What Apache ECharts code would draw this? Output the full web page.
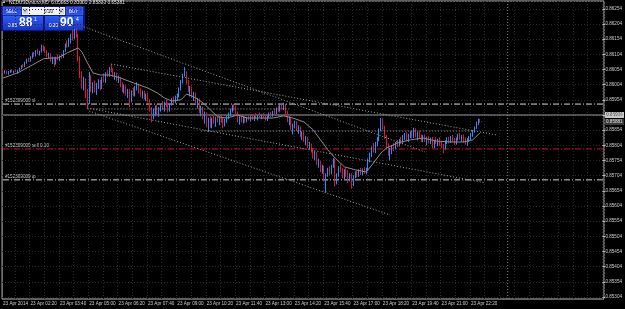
<!DOCTYPE html>
<html>
<head>
<meta charset="utf-8">
<script src="https://cdn.jsdelivr.net/npm/echarts@6/dist/echarts.min.js"></script>
<style>
  html, body { margin: 0; padding: 0; background: #000; }
  #chart { width: 625px; height: 309px; }
</style>
</head>
<body>
<div id="chart"></div>
<script>
// NZDUSDmicro M5 candles, 23 Apr 2014
var symbolTitle = 'NZDUSDmicro,M5  0.85883 0.85883 0.85880 0.85881';
var orderTicket = '#152309009';

var tickLabels = ['23 Apr 2014', '23 Apr 02:20', '23 Apr 03:40', '23 Apr 05:00', '23 Apr 06:20',
  '23 Apr 07:40', '23 Apr 09:00', '23 Apr 10:20', '23 Apr 11:40', '23 Apr 13:00', '23 Apr 14:20',
  '23 Apr 15:40', '23 Apr 17:00', '23 Apr 18:20', '23 Apr 19:40', '23 Apr 21:00', '23 Apr 22:20'];

var barOpen = [
  0.86050,0.86045,0.86048,0.86041,0.86046,0.86050,0.86046,0.86049,0.86047,0.86050,
  0.86058,0.86066,0.86063,0.86078,0.86086,0.86082,0.86095,0.86106,0.86099,0.86115,
  0.86108,0.86113,0.86130,0.86118,0.86112,0.86098,0.86105,0.86084,0.86090,0.86074,
  0.86092,0.86088,0.86097,0.86094,0.86115,0.86136,0.86130,0.86152,0.86166,0.86160,
  0.86178,0.86168,0.86090,0.86035,0.86000,0.86020,0.85968,0.85945,0.86030,0.85990,
  0.86005,0.85985,0.86002,0.86015,0.85995,0.86025,0.86018,0.86040,0.86036,0.86058,
  0.86050,0.86035,0.86040,0.86020,0.86028,0.86000,0.85985,0.85998,0.85975,0.85985,
  0.85950,0.85980,0.85970,0.85995,0.86005,0.85980,0.85966,0.85978,0.85960,0.85970,
  0.85950,0.85920,0.85895,0.85918,0.85930,0.85910,0.85925,0.85935,0.85928,0.85945,
  0.85938,0.85920,0.85940,0.85955,0.85946,0.85962,0.85968,0.85990,0.86015,0.86035,
  0.86040,0.86012,0.85985,0.85995,0.85965,0.85972,0.85945,0.85955,0.85915,0.85928,
  0.85895,0.85910,0.85870,0.85888,0.85870,0.85890,0.85880,0.85895,0.85885,0.85897,
  0.85882,0.85870,0.85888,0.85900,0.85906,0.85920,0.85932,0.85924,0.85910,0.85885,
  0.85895,0.85884,0.85893,0.85886,0.85895,0.85890,0.85898,0.85892,0.85900,0.85896,
  0.85902,0.85898,0.85904,0.85897,0.85890,0.85900,0.85908,0.85902,0.85915,0.85910,
  0.85925,0.85920,0.85932,0.85928,0.85935,0.85910,0.85885,0.85895,0.85860,0.85868,
  0.85880,0.85855,0.85862,0.85835,0.85845,0.85820,0.85830,0.85800,0.85808,0.85785,
  0.85765,0.85778,0.85745,0.85750,0.85720,0.85732,0.85695,0.85705,0.85725,0.85712,
  0.85735,0.85755,0.85680,0.85708,0.85730,0.85720,0.85700,0.85718,0.85705,0.85690,
  0.85708,0.85675,0.85700,0.85712,0.85705,0.85720,0.85712,0.85722,0.85716,0.85726,
  0.85755,0.85775,0.85792,0.85785,0.85810,0.85825,0.85855,0.85885,0.85860,0.85830,
  0.85795,0.85780,0.85790,0.85800,0.85795,0.85810,0.85805,0.85820,0.85815,0.85830,
  0.85840,0.85825,0.85838,0.85845,0.85832,0.85855,0.85835,0.85845,0.85832,0.85820,
  0.85835,0.85818,0.85828,0.85815,0.85825,0.85800,0.85818,0.85812,0.85822,0.85806,
  0.85800,0.85795,0.85815,0.85825,0.85818,0.85830,0.85820,0.85812,0.85826,0.85836,
  0.85828,0.85834,0.85816,0.85810,0.85824,0.85830,0.85840,0.85850,0.85862,0.85878,
  0.85887,0.85883
];
var barHigh = [
  0.86056,0.86052,0.86050,0.86049,0.86053,0.86055,0.86051,0.86054,0.86052,0.86060,
  0.86068,0.86072,0.86080,0.86090,0.86092,0.86098,0.86110,0.86112,0.86118,0.86122,
  0.86116,0.86136,0.86134,0.86128,0.86116,0.86110,0.86108,0.86096,0.86093,0.86096,
  0.86104,0.86100,0.86106,0.86118,0.86140,0.86150,0.86158,0.86172,0.86186,0.86188,
  0.86190,0.86172,0.86098,0.86048,0.86030,0.86025,0.85990,0.86046,0.86036,0.86012,
  0.86018,0.86010,0.86022,0.86020,0.86030,0.86040,0.86045,0.86052,0.86062,0.86072,
  0.86058,0.86045,0.86044,0.86034,0.86030,0.86012,0.86005,0.86002,0.85990,0.85990,
  0.85985,0.85995,0.86000,0.86012,0.86008,0.85992,0.85985,0.85984,0.85975,0.85978,
  0.85955,0.85930,0.85925,0.85935,0.85938,0.85930,0.85940,0.85950,0.85948,0.85955,
  0.85945,0.85942,0.85960,0.85965,0.85968,0.85975,0.85995,0.86020,0.86040,0.86062,
  0.86048,0.86020,0.86000,0.85998,0.85980,0.85978,0.85960,0.85958,0.85935,0.85932,
  0.85915,0.85912,0.85895,0.85900,0.85895,0.85902,0.85898,0.85905,0.85900,0.85902,
  0.85896,0.85892,0.85903,0.85912,0.85925,0.85938,0.85940,0.85935,0.85915,0.85900,
  0.85905,0.85898,0.85900,0.85898,0.85905,0.85900,0.85906,0.85902,0.85910,0.85904,
  0.85912,0.85906,0.85910,0.85905,0.85902,0.85912,0.85915,0.85918,0.85925,0.85928,
  0.85935,0.85938,0.85940,0.85945,0.85940,0.85918,0.85900,0.85898,0.85875,0.85885,
  0.85884,0.85870,0.85866,0.85850,0.85848,0.85835,0.85832,0.85815,0.85810,0.85795,
  0.85785,0.85782,0.85760,0.85752,0.85740,0.85738,0.85712,0.85730,0.85735,0.85740,
  0.85762,0.85760,0.85712,0.85735,0.85742,0.85728,0.85725,0.85730,0.85722,0.85712,
  0.85712,0.85705,0.85718,0.85720,0.85725,0.85730,0.85728,0.85732,0.85730,0.85760,
  0.85780,0.85800,0.85812,0.85815,0.85832,0.85860,0.85894,0.85892,0.85868,0.85838,
  0.85810,0.85795,0.85805,0.85812,0.85815,0.85822,0.85825,0.85832,0.85838,0.85845,
  0.85848,0.85842,0.85850,0.85852,0.85862,0.85860,0.85848,0.85852,0.85840,0.85838,
  0.85840,0.85832,0.85835,0.85830,0.85832,0.85822,0.85830,0.85825,0.85830,0.85815,
  0.85808,0.85820,0.85830,0.85832,0.85835,0.85838,0.85828,0.85830,0.85842,0.85845,
  0.85838,0.85840,0.85830,0.85828,0.85835,0.85845,0.85855,0.85866,0.85882,0.85892,
  0.85891,0.85883
];
var barLow = [
  0.86042,0.86040,0.86038,0.86037,0.86043,0.86044,0.86041,0.86045,0.86040,0.86048,
  0.86055,0.86060,0.86062,0.86074,0.86079,0.86080,0.86090,0.86096,0.86097,0.86104,
  0.86100,0.86110,0.86114,0.86108,0.86094,0.86090,0.86080,0.86072,0.86062,0.86070,
  0.86085,0.86082,0.86090,0.86092,0.86112,0.86126,0.86128,0.86140,0.86150,0.86155,
  0.86160,0.86080,0.86026,0.85990,0.85985,0.85960,0.85925,0.85940,0.85980,0.85975,
  0.85978,0.85970,0.85990,0.85985,0.85990,0.86012,0.86010,0.86030,0.86030,0.86045,
  0.86030,0.86020,0.86015,0.86010,0.85995,0.85980,0.85975,0.85968,0.85960,0.85930,
  0.85945,0.85965,0.85965,0.85985,0.85975,0.85962,0.85958,0.85955,0.85950,0.85945,
  0.85915,0.85880,0.85890,0.85900,0.85905,0.85898,0.85915,0.85920,0.85915,0.85930,
  0.85912,0.85915,0.85935,0.85940,0.85942,0.85950,0.85962,0.85985,0.86008,0.86030,
  0.86005,0.85980,0.85965,0.85960,0.85950,0.85940,0.85925,0.85910,0.85900,0.85890,
  0.85875,0.85865,0.85848,0.85862,0.85860,0.85875,0.85865,0.85880,0.85870,0.85878,
  0.85860,0.85866,0.85878,0.85890,0.85900,0.85912,0.85918,0.85905,0.85880,0.85872,
  0.85880,0.85876,0.85878,0.85880,0.85886,0.85882,0.85888,0.85884,0.85892,0.85886,
  0.85895,0.85890,0.85893,0.85885,0.85884,0.85895,0.85896,0.85898,0.85905,0.85906,
  0.85914,0.85915,0.85922,0.85920,0.85905,0.85880,0.85870,0.85855,0.85840,0.85860,
  0.85850,0.85842,0.85830,0.85822,0.85815,0.85805,0.85795,0.85790,0.85780,0.85760,
  0.85755,0.85740,0.85730,0.85715,0.85710,0.85690,0.85648,0.85700,0.85705,0.85708,
  0.85730,0.85668,0.85675,0.85700,0.85715,0.85695,0.85690,0.85700,0.85680,0.85685,
  0.85660,0.85670,0.85695,0.85698,0.85700,0.85706,0.85705,0.85710,0.85708,0.85720,
  0.85748,0.85765,0.85780,0.85778,0.85800,0.85818,0.85850,0.85855,0.85825,0.85790,
  0.85770,0.85755,0.85775,0.85785,0.85790,0.85798,0.85800,0.85808,0.85810,0.85822,
  0.85818,0.85815,0.85828,0.85826,0.85828,0.85830,0.85820,0.85828,0.85815,0.85814,
  0.85815,0.85805,0.85810,0.85808,0.85795,0.85795,0.85808,0.85800,0.85802,0.85795,
  0.85778,0.85790,0.85808,0.85810,0.85812,0.85815,0.85805,0.85806,0.85820,0.85822,
  0.85815,0.85812,0.85806,0.85802,0.85815,0.85822,0.85832,0.85845,0.85858,0.85870,
  0.85878,0.85880
];
var barClose = [
  0.86045,0.86048,0.86041,0.86046,0.86050,0.86046,0.86049,0.86047,0.86050,0.86058,
  0.86066,0.86063,0.86078,0.86086,0.86082,0.86095,0.86106,0.86099,0.86115,0.86108,
  0.86113,0.86130,0.86118,0.86112,0.86098,0.86105,0.86084,0.86090,0.86074,0.86092,
  0.86088,0.86097,0.86094,0.86115,0.86136,0.86130,0.86152,0.86166,0.86160,0.86178,
  0.86168,0.86090,0.86035,0.86000,0.86020,0.85968,0.85945,0.86030,0.85990,0.86005,
  0.85985,0.86002,0.86015,0.85995,0.86025,0.86018,0.86040,0.86036,0.86058,0.86050,
  0.86035,0.86040,0.86020,0.86028,0.86000,0.85985,0.85998,0.85975,0.85985,0.85950,
  0.85980,0.85970,0.85995,0.86005,0.85980,0.85966,0.85978,0.85960,0.85970,0.85950,
  0.85920,0.85895,0.85918,0.85930,0.85910,0.85925,0.85935,0.85928,0.85945,0.85938,
  0.85920,0.85940,0.85955,0.85946,0.85962,0.85968,0.85990,0.86015,0.86035,0.86040,
  0.86012,0.85985,0.85995,0.85965,0.85972,0.85945,0.85955,0.85915,0.85928,0.85895,
  0.85910,0.85870,0.85888,0.85870,0.85890,0.85880,0.85895,0.85885,0.85897,0.85882,
  0.85870,0.85888,0.85900,0.85906,0.85920,0.85932,0.85924,0.85910,0.85885,0.85895,
  0.85884,0.85893,0.85886,0.85895,0.85890,0.85898,0.85892,0.85900,0.85896,0.85902,
  0.85898,0.85904,0.85897,0.85890,0.85900,0.85908,0.85902,0.85915,0.85910,0.85925,
  0.85920,0.85932,0.85928,0.85935,0.85910,0.85885,0.85895,0.85860,0.85868,0.85880,
  0.85855,0.85862,0.85835,0.85845,0.85820,0.85830,0.85800,0.85808,0.85785,0.85765,
  0.85778,0.85745,0.85750,0.85720,0.85732,0.85695,0.85705,0.85725,0.85712,0.85735,
  0.85755,0.85680,0.85708,0.85730,0.85720,0.85700,0.85718,0.85705,0.85690,0.85708,
  0.85675,0.85700,0.85712,0.85705,0.85720,0.85712,0.85722,0.85716,0.85726,0.85755,
  0.85775,0.85792,0.85785,0.85810,0.85825,0.85855,0.85885,0.85860,0.85830,0.85795,
  0.85780,0.85790,0.85800,0.85795,0.85810,0.85805,0.85820,0.85815,0.85830,0.85840,
  0.85825,0.85838,0.85845,0.85832,0.85855,0.85835,0.85845,0.85832,0.85820,0.85835,
  0.85818,0.85828,0.85815,0.85825,0.85800,0.85818,0.85812,0.85822,0.85806,0.85800,
  0.85795,0.85815,0.85825,0.85818,0.85830,0.85820,0.85812,0.85826,0.85836,0.85828,
  0.85834,0.85816,0.85810,0.85824,0.85830,0.85840,0.85850,0.85862,0.85878,0.85887,
  0.85883,0.85881
];

// moving average, read at sample bars
var maIndex = [0, 8, 16, 22, 26, 30, 35, 41, 43, 46, 49, 53, 58, 64, 71, 79, 84, 88, 92, 97,
  100, 104, 109, 113, 117, 122, 128, 133, 140, 147, 153, 158, 164, 169, 173, 177, 181, 186, 192, 198,
  201, 206, 209, 215, 222, 229, 236, 244, 251, 256, 260];
var maValue = [0.86026, 0.86043, 0.86069, 0.86089, 0.86092, 0.86092, 0.86109, 0.86125, 0.86112, 0.86076,
  0.86043, 0.86036, 0.86036, 0.86026, 0.86010, 0.85993, 0.85977, 0.85960, 0.85950, 0.85954,
  0.85973, 0.85964, 0.85944, 0.85921, 0.85898, 0.85894, 0.85904, 0.85894, 0.85894, 0.85894,
  0.85901, 0.85894, 0.85881, 0.85855, 0.85822, 0.85789, 0.85762, 0.85733, 0.85723, 0.85716,
  0.85739, 0.85779, 0.85795, 0.85812, 0.85822, 0.85828, 0.85818, 0.85815, 0.85815, 0.85822, 0.85845];

// dotted trend lines: [bar1, price1, bar2, price2]
var trendLines = [
  [44, 0.86195, 230, 0.85782],
  [59, 0.86072, 269, 0.85838],
  [46, 0.85927, 263, 0.85680],
  [47, 0.85917, 211, 0.85574],
  [46, 0.85924, 156, 0.85924],
  [108, 0.85851, 256, 0.85851]
];

var slLevel = 0.85940;
var sellLevel = 0.85792;
var tpLevel = 0.85690;
var askPrice = 0.85904;
var bidPrice = 0.85881;
var separatorBar = 275; // 24 Apr 00:00

var barCount = 328;
var priceMin = 0.85297, priceMax = 0.86280;
var labelShift = 0.00004; // right scale ticks sit at ...04

function pad(n) { return (n < 10 ? '0' : '') + n; }

// bar times, 5 minute steps from 23 Apr 01:05
var categories = [];
for (var i = 0; i < barCount; i++) {
  var t = 65 + i * 5;
  var day = t >= 1440 ? '24' : '23';
  t = t % 1440;
  categories.push(day + ' Apr ' + pad(Math.floor(t / 60)) + ':' + pad(t % 60));
}

var candles = barOpen.map(function(o, k) {
  return [o, barClose[k], barLow[k], barHigh[k]];
});

function isLabelBar(idx) {
  return idx === 0 || (idx >= 15 && (idx - 15) % 16 === 0 && idx <= 255);
}

var FONT = '"Liberation Sans", Arial, sans-serif';
var textCol = '#cfcfcf';
var gridCol = '#2a2a2a';
var dotCol = '#a8a8a8';
var dashDot = [6, 2, 1, 2];

var series = [];

function segment(points, color, type, z) {
  series.push({
    type: 'line',
    xAxisIndex: 0, yAxisIndex: 0,
    data: points,
    symbol: 'none',
    silent: true,
    lineStyle: { color: color, width: 1, type: type },
    z: z
  });
}

// order / price levels and day separator
segment([[0, slLevel], [barCount - 1, slLevel]], '#d8d8d8', dashDot, 1);
segment([[0, sellLevel], [barCount - 1, sellLevel]], '#c8143c', dashDot, 1);
segment([[0, tpLevel], [barCount - 1, tpLevel]], '#d8d8d8', dashDot, 1);
segment([[0, askPrice], [barCount - 1, askPrice]], '#9a9a9a', 'solid', 1);
segment([[separatorBar, priceMin], [separatorBar, priceMax]], '#8a8a8a', [1, 2], 1);

series.push({
  type: 'candlestick',
  xAxisIndex: 0, yAxisIndex: 0,
  data: candles,
  barWidth: 1,
  itemStyle: {
    color: '#1e90ff', color0: '#dc143c',
    borderColor: '#1e90ff', borderColor0: '#dc143c',
    borderWidth: 1
  },
  z: 2
});

series.push({
  type: 'line',
  xAxisIndex: 0, yAxisIndex: 0,
  data: maIndex.map(function(b, k) { return [b, maValue[k]]; }),
  symbol: 'none',
  lineStyle: { color: '#8e8e8e', width: 1 },
  z: 3
});

trendLines.forEach(function(tl) {
  segment([[tl[0], tl[1]], [tl[2], tl[3]]], dotCol, [1, 2], 4);
});

var option = {
  backgroundColor: '#000',
  animation: false,
  grid: [
    { left: 2, top: 1, width: 602, height: 298, show: true, borderColor: '#bdbdbd', borderWidth: 1, backgroundColor: 'transparent' },
    { left: 2, top: 1, width: 602, height: 296, show: false }
  ],
  xAxis: [
    {
      gridIndex: 0, type: 'category', data: categories, boundaryGap: true,
      axisLine: { show: false }, axisTick: { show: false },
      axisLabel: {
        interval: function(idx) { return isLabelBar(idx); },
        formatter: function(v, idx) {
          return idx === 0 ? tickLabels[0] : tickLabels[(idx - 15) / 16 + 1];
        },
        align: 'left', margin: 2, color: textCol, fontSize: 4.6, fontFamily: FONT
      },
      splitLine: {
        show: true,
        interval: function(idx) { return idx >= 7 && (idx - 7) % 8 === 0; },
        lineStyle: { color: gridCol, type: [1, 2], width: 1 }
      }
    },
    { gridIndex: 1, type: 'category', data: categories, show: false }
  ],
  yAxis: [
    { gridIndex: 0, type: 'value', min: priceMin, max: priceMax, show: false, splitLine: { show: false } },
    {
      gridIndex: 1, type: 'value', position: 'right',
      min: 0.85300, max: 0.86276, interval: 0.0005,
      axisLine: { show: false },
      axisTick: { show: true, length: 3, lineStyle: { color: '#bdbdbd' } },
      axisLabel: {
        showMaxLabel: false, margin: 3, color: textCol, fontSize: 4.6, fontFamily: FONT,
        formatter: function(v) { return (v + labelShift).toFixed(5); }
      },
      splitLine: { show: true, lineStyle: { color: gridCol, type: [1, 2], width: 1 } }
    }
  ],
  series: series,
  graphic: [
    { type: 'text', left: 2, top: 0, style: { text: '\u25B2', fill: '#d0d0d0', fontSize: 4 } },
    { type: 'text', left: 9, top: 0, style: { text: symbolTitle, fill: '#e4e4e4', font: '4.8px ' + FONT } },
    // one-click trading panel
    { type: 'rect', shape: { x: 1, y: 6, width: 84, height: 25 }, style: { fill: '#0b138a' } },
    { type: 'rect', shape: { x: 3, y: 7, width: 18, height: 8 }, style: { fill: '#2a4de4', stroke: '#5a78f0', lineWidth: 0.5 } },
    { type: 'text', left: 6, top: 9, style: { text: 'SELL', fill: '#fff', font: '4.5px ' + FONT } },
    { type: 'rect', shape: { x: 22, y: 7, width: 43, height: 8 }, style: { fill: '#f2f2f2' } },
    { type: 'rect', shape: { x: 23, y: 8, width: 5, height: 6 }, style: { fill: '#d4d4d4' } },
    { type: 'rect', shape: { x: 59, y: 8, width: 5, height: 6 }, style: { fill: '#d4d4d4' } },
    { type: 'text', left: 24, top: 9, style: { text: '\u25BE', fill: '#333', fontSize: 4 } },
    { type: 'text', left: 60, top: 9, style: { text: '\u25B4', fill: '#333', fontSize: 4 } },
    { type: 'text', left: 44, top: 9, style: { text: '0.10', fill: '#000', font: '4.6px ' + FONT } },
    { type: 'rect', shape: { x: 66, y: 7, width: 17, height: 8 }, style: { fill: '#2a4de4', stroke: '#5a78f0', lineWidth: 0.5 } },
    { type: 'text', left: 69, top: 9, style: { text: 'BUY', fill: '#fff', font: '4.5px ' + FONT } },
    {
      type: 'rect', shape: { x: 3, y: 16, width: 40, height: 14 },
      style: { fill: new echarts.graphic.LinearGradient(0, 0, 0, 1, [{ offset: 0, color: '#2f5cf0' }, { offset: 1, color: '#1733c4' }]) }
    },
    {
      type: 'rect', shape: { x: 45, y: 16, width: 38, height: 14 },
      style: { fill: new echarts.graphic.LinearGradient(0, 0, 0, 1, [{ offset: 0, color: '#2f5cf0' }, { offset: 1, color: '#1733c4' }]) }
    },
    { type: 'text', left: 8, top: 23, style: { text: '0.85', fill: '#fff', font: '4.6px ' + FONT } },
    { type: 'text', left: 19, top: 17, style: { text: '88', fill: '#fff', font: 'bold 12px ' + FONT } },
    { type: 'text', left: 34, top: 17, style: { text: '1', fill: '#fff', font: '5px ' + FONT } },
    { type: 'text', left: 49, top: 23, style: { text: '0.85', fill: '#fff', font: '4.6px ' + FONT } },
    { type: 'text', left: 60, top: 17, style: { text: '90', fill: '#fff', font: 'bold 12px ' + FONT } },
    { type: 'text', left: 76, top: 17, style: { text: '4', fill: '#fff', font: '5px ' + FONT } }
  ]
};

var chart = echarts.init(document.getElementById('chart'));
chart.setOption(option);

// texts tied to price levels, placed through the axis scale
function yOf(price) { return chart.convertToPixel({ gridIndex: 0 }, [0, price])[1]; }

var levelTexts = [
  [slLevel, orderTicket + ' sl'],
  [sellLevel, orderTicket + ' sell 0.10'],
  [tpLevel, orderTicket + ' tp']
];
var extra = [];
levelTexts.forEach(function(lt, k) {
  extra.push({
    type: 'text', id: 'lvl' + k, x: 5, y: yOf(lt[0]) - 1,
    style: { text: lt[1], fill: textCol, font: '4.6px ' + FONT, textVerticalAlign: 'bottom' }
  });
});
[[askPrice, '#000', '#c8c8c8'], [bidPrice, '#e0e0e0', '#3a3a3a']].forEach(function(pl, k) {
  var y = yOf(pl[0]);
  extra.push({
    type: 'rect', id: 'pbox' + k, shape: { x: 605, y: y - 3, width: 19, height: 6 },
    style: { fill: pl[2] }
  });
  extra.push({
    type: 'text', id: 'ptxt' + k, x: 606, y: y,
    style: { text: pl[0].toFixed(5), fill: pl[1], font: '4.6px ' + FONT, textVerticalAlign: 'middle' }
  });
});
chart.setOption({ graphic: option.graphic.concat(extra) });
</script>
</body>
</html>
